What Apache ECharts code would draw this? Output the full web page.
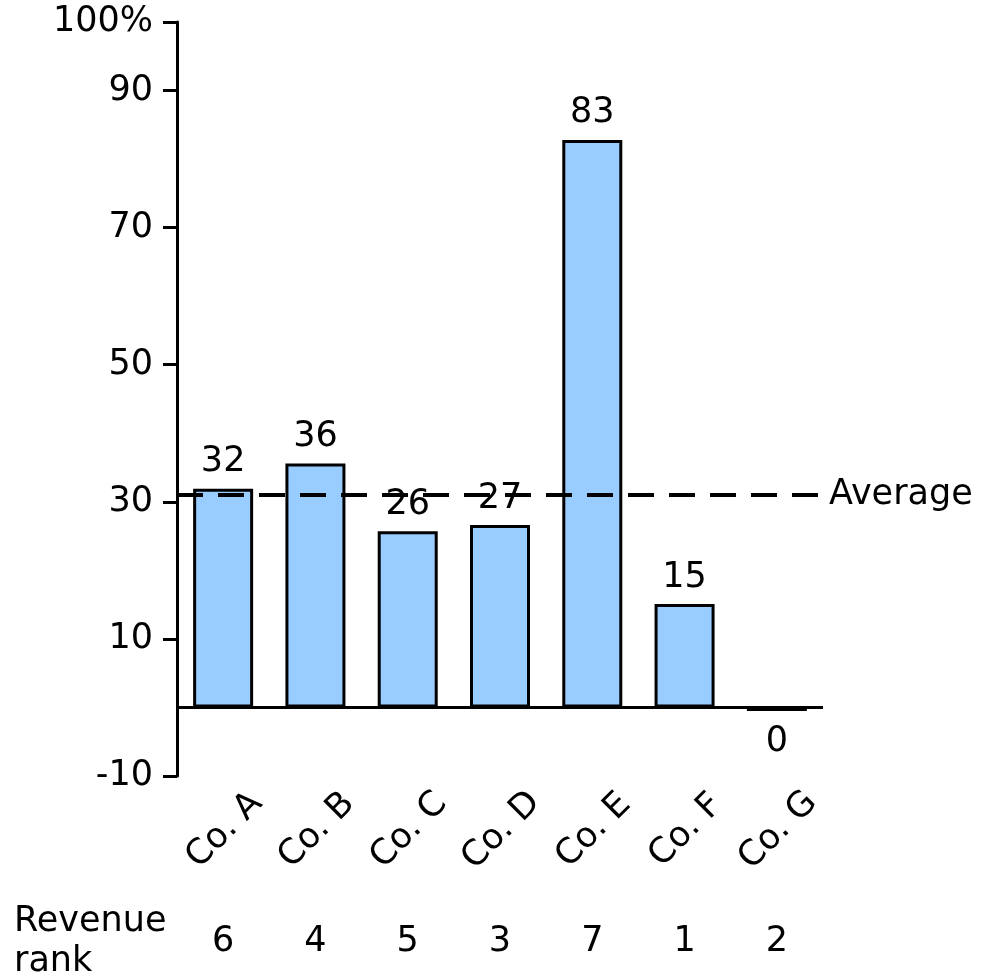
<!DOCTYPE html>
<html><head><meta charset="utf-8">
<script src="https://cdn.jsdelivr.net/npm/echarts@6/dist/echarts.min.js"></script>
<style>html,body{margin:0;padding:0;background:#fff}#c{width:983px;height:974px}</style>
</head><body><div id="c"></div>
<script>
const categories = ['Co. A','Co. B','Co. C','Co. D','Co. E','Co. F','Co. G'];
const values = [31.9, 35.6, 25.7, 26.6, 82.8, 15.1, -0.5];
const ranks = ['6','4','5','3','7','1','2'];
const FONT = 'DejaVu Sans';
const FS = 35;

const chart = echarts.init(document.getElementById('c'), null, {renderer:'canvas'});
chart.setOption({
  animation:false,
  backgroundColor:'#fff',
  textStyle:{fontFamily:FONT},
  grid:{left:177, top:22, width:646, height:754, containLabel:false},
  xAxis:[{
    type:'category', data:categories, boundaryGap:true,
    axisLine:{show:false}, axisTick:{show:false},
    axisLabel:{rotate:45, align:'center', verticalAlign:'middle', margin:56,
      fontSize:FS, fontFamily:FONT, color:'#000', interval:0, padding:[0,0,0,4]}
  },{
    type:'category', data:ranks, boundaryGap:true, position:'bottom',
    axisLine:{show:false}, axisTick:{show:false},
    axisLabel:{verticalAlign:'middle', margin:166, fontSize:FS, fontFamily:FONT, color:'#000', interval:0}
  }],
  yAxis:{
    type:'value', min:-10, max:100, interval:20,
    splitLine:{show:false},
    axisLine:{show:true, lineStyle:{color:'#000', width:3}},
    axisTick:{show:true, length:14, lineStyle:{color:'#000', width:3}},
    axisLabel:{margin:24, fontSize:FS, fontFamily:FONT, color:'#000', padding:[8,0,0,0],
      formatter:v => v === 100 ? '100%' : String(v)}
  },
  graphic:[{
    type:'text', left:14, top:902,
    style:{text:'Revenue\nrank', fontSize:FS, fontFamily:FONT, fill:'#000', lineHeight:40}
  }],
  series:[{
    type:'bar', xAxisIndex:0, barWidth:60,
    data:values.map(v => ({value:v, label: v < 0 ? {position:'bottom', distance:14} : {}})),
    itemStyle:{color:'#99ccff', borderColor:'#000', borderWidth:3},
    label:{show:true, position:'top', distance:9, fontSize:FS, fontFamily:FONT, color:'#000',
      formatter:p => String(Math.round(p.value) === 0 ? 0 : Math.round(p.value))},
    z:2,
    markLine:{
      silent:true, symbol:'none', z:5,
      data:[
        {type:'average', name:'Average',
          lineStyle:{type:[26,15], color:'#000', width:4},
          label:{show:true, position:'end', formatter:'Average', fontSize:FS, fontFamily:FONT, color:'#000', distance:6}},
        {yAxis:0, lineStyle:{type:'solid', color:'#000', width:3}, label:{show:false}}
      ]
    }
  }]
});
</script></body></html>
